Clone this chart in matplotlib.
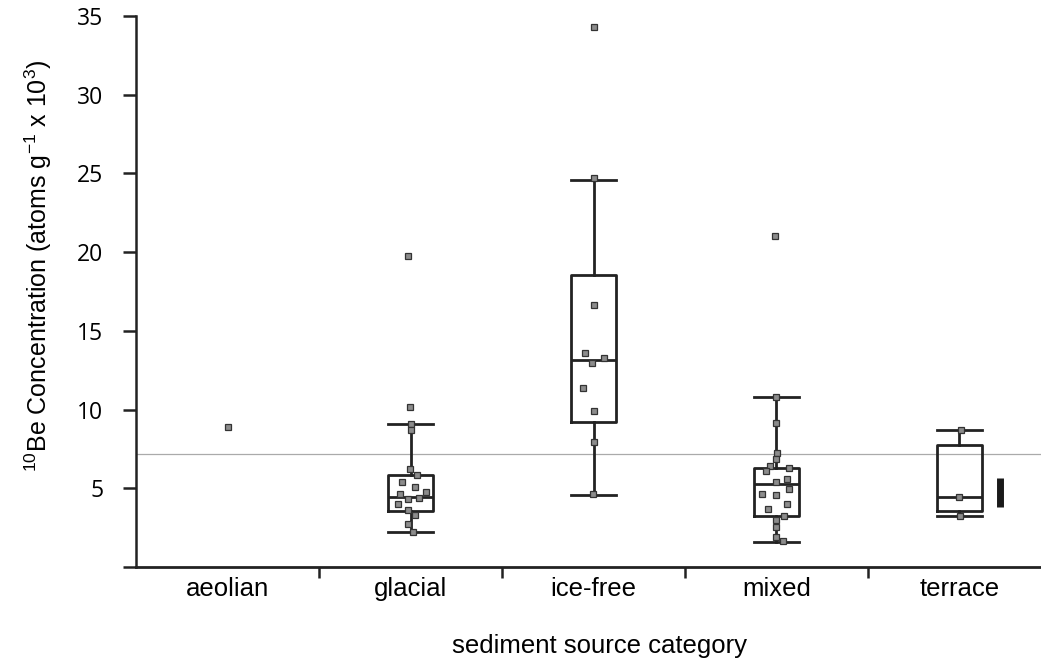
import matplotlib
matplotlib.use('Agg')
from matplotlib import pyplot as plt
import numpy as np

plt.rcParams['mathtext.fontset'] = 'custom'
plt.rcParams['mathtext.rm'] = 'Liberation Sans'

categories = ['aeolian', 'glacial', 'ice-free', 'mixed', 'terrace']

# sample values (atoms g-1 x 10^3)
aeolian = [8.90]
glacial = [19.73, 10.15, 9.09, 8.73, 6.23, 5.87, 5.40, 5.11, 4.77, 4.64,
           4.35, 4.39, 4.03, 3.60, 3.29, 2.71, 2.25]
ice_free = [34.27, 24.71, 16.66, 13.62, 13.30, 12.94, 11.39, 9.91, 7.93, 4.63]
mixed = [10.81, 9.12, 7.27, 6.89, 6.42, 6.32, 6.10, 5.60, 5.38, 4.98, 4.62,
         4.56, 4.03, 3.67, 3.22, 3.01, 2.57, 1.91, 1.68, 21.0]
terrace = [8.69, 4.43, 3.24]

# box statistics as drawn (lower whisker, q1, median, q3, upper whisker)
box_cats = [1, 2, 3, 4]
whislo = [2.25, 4.56, 1.59, 3.24]
q1 = [3.56, 9.22, 3.22, 3.55]
med = [4.45, 13.15, 5.28, 4.43]
q3 = [5.87, 18.52, 6.32, 7.74]
whishi = [9.09, 24.58, 10.81, 8.69]

ref_level = 7.15
terrace_bar = (3.80, 5.64)

# horizontal jitter of the points (fraction of a category slot)
jitter = {
    0: [0.0],
    1: [-0.011, -0.005, 0, 0.005, -0.005, 0.033, -0.044, 0.027, 0.082, -0.055,
        -0.011, 0.049, -0.071, -0.011, 0.022, -0.011, 0.016],
    2: [0, 0, 0, -0.044, 0.060, -0.008, -0.055, 0, 0.005, -0.005],
    3: [0, 0, 0.005, 0, -0.033, 0.066, -0.055, 0.057, 0, 0.071, -0.079, 0,
        0.060, -0.049, 0.041, 0, 0, 0, 0.038, -0.008],
    4: [0.008, -0.001, 0.001],
}

groups = [aeolian, glacial, ice_free, mixed, terrace]

dark = '#222222'
font = ['Liberation Sans', 'DejaVu Sans']

fig = plt.figure(figsize=(10.41, 6.61), dpi=100)
ax = fig.add_axes([136 / 1041, 1 - 567 / 661, 915 / 1041, (567 - 16) / 661])

stats = []
for i in range(len(box_cats)):
    stats.append({'whislo': whislo[i], 'q1': q1[i], 'med': med[i],
                  'q3': q3[i], 'whishi': whishi[i], 'fliers': []})

lp = dict(color=dark, linewidth=2.0)
ax.bxp(stats, positions=box_cats, widths=0.25, showfliers=False,
       boxprops=lp, whiskerprops=lp, capprops=lp, medianprops=lp,
       capwidths=0.25, zorder=2)

ax.axhline(ref_level, color='#aaaaaa', linewidth=0.9, zorder=1)

for i, vals in enumerate(groups):
    xs = i + np.array(jitter[i])
    ax.plot(xs, vals, linestyle='none', marker='s', markersize=5,
            markerfacecolor='#8c8c8c', markeredgecolor='#333333',
            markeredgewidth=0.9, zorder=3)

ax.vlines(4.224, terrace_bar[0], terrace_bar[1], color='#1a1a1a',
          linewidth=5, zorder=2)

ax.set_xlim(-0.5, 4.5)
ax.set_ylim(0, 35)

for s in ['top', 'right']:
    ax.spines[s].set_visible(False)
ax.spines['left'].set_linewidth(1.8)
ax.spines['bottom'].set_linewidth(2.0)
ax.spines['left'].set_color(dark)
ax.spines['bottom'].set_color(dark)

ax.set_yticks(np.arange(0, 36, 5))
ax.set_yticklabels([''] + [str(v) for v in range(5, 36, 5)],
                   fontfamily=['Open Sans', 'DejaVu Sans'], fontsize=16.5)
ax.tick_params(axis='y', direction='out', length=9.5, width=1.8,
               color=dark, pad=14)

ax.set_xticks(range(len(categories)))
ax.set_xticklabels(categories, fontfamily=font, fontsize=18.5)
ax.set_xticks([0.5, 1.5, 2.5, 3.5], minor=True)
ax.tick_params(axis='x', which='major', length=0, pad=7)
ax.tick_params(axis='x', which='minor', direction='out', length=8,
               width=1.8, color=dark)

fig.text(600 / 1041, 1 - 653 / 661, 'sediment source category',
         ha='center', va='baseline', fontsize=18.5, fontfamily=font)
fig.text(38 / 1041, 1 - 266 / 661,
         r'$^{10}$Be Concentration (atoms g$^{-1}$ x 10$^{3}$)',
         rotation=90, ha='center', va='center', fontsize=18,
         fontfamily=font)

fig.savefig('out.png', dpi=100)
